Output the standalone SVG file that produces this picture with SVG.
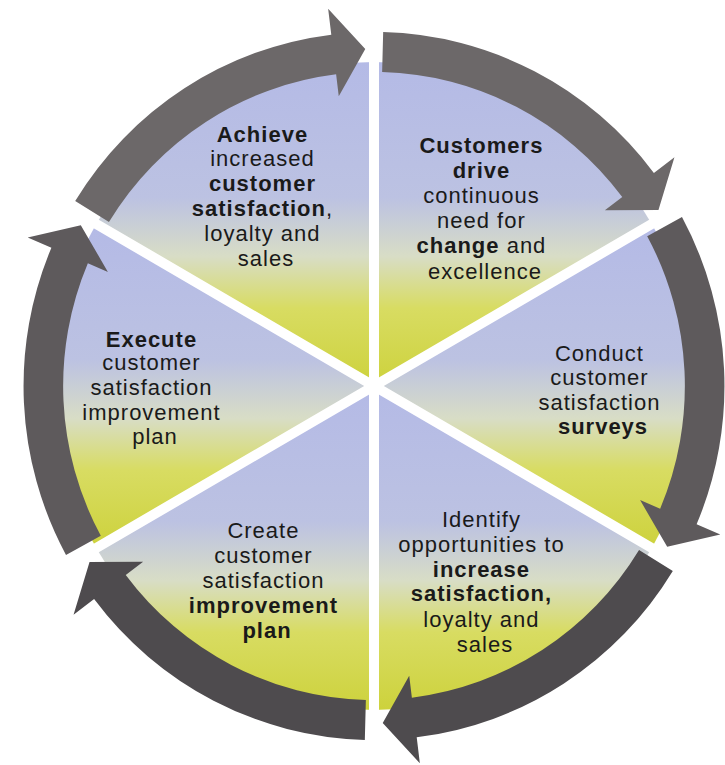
<svg xmlns="http://www.w3.org/2000/svg" width="725" height="765" viewBox="0 0 725 765">
  <defs>
    <linearGradient id="wedgeGrad" x1="0" y1="0" x2="0" y2="1">
      <stop offset="0" stop-color="#b4bae6"/>
      <stop offset="0.42" stop-color="#bcc2e2"/>
      <stop offset="0.6" stop-color="#d8ddc6"/>
      <stop offset="0.76" stop-color="#d8dc62"/>
      <stop offset="1" stop-color="#cdd23c"/>
    </linearGradient>
    <path id="arrowShape" d="M353.88,9.27 A354,354 0 0 1 213.04,282.72 L228.69,303.48 L176.08,287.34 L175.73,233.20 L188.97,250.77 A314,314 0 0 0 313.89,8.22 Z"/>
    <style>
      .wedge { fill: url(#wedgeGrad); }
      .divider { stroke: #ffffff; stroke-width: 10; stroke-linecap: round; }
      .lbl { font-family: "Liberation Sans", Arial, Helvetica, sans-serif; font-size: 22px; letter-spacing: 1px; fill: #1a1a1a; text-anchor: middle; }
      .b { font-weight: bold; }
    </style>
  </defs>
  <rect width="725" height="765" fill="#ffffff"/>

  <g id="node-achieve">
    <path class="wedge" d="M374,386 L96.2,224 A320.8,324 0 0 1 374,62 Z"/>
    <text class="lbl">
      <tspan class="b" x="266" y="142">Achieve</tspan>
      <tspan x="266" y="166">increased</tspan>
      <tspan class="b" x="266" y="191">customer</tspan>
      <tspan x="266" y="216"><tspan class="b">satisfaction</tspan>,</tspan>
      <tspan x="266" y="241">loyalty and</tspan>
      <tspan x="266" y="266">sales</tspan>
    </text>
  </g>

  <g id="node-customers">
    <path class="wedge" d="M374,386 L374,62 A320.8,324 0 0 1 651.8,224 Z"/>
    <text class="lbl">
      <tspan class="b" x="485" y="153">Customers</tspan>
      <tspan class="b" x="485" y="178">drive</tspan>
      <tspan x="485" y="203">continuous</tspan>
      <tspan x="485" y="228">need for</tspan>
      <tspan x="485" y="253"><tspan class="b">change</tspan> and</tspan>
      <tspan x="485" y="279">excellence</tspan>
    </text>
  </g>

  <g id="node-conduct">
    <path class="wedge" d="M374,386 L651.8,224 A320.8,324 0 0 1 651.8,548 Z"/>
    <text class="lbl">
      <tspan x="603" y="361">Conduct</tspan>
      <tspan x="603" y="385">customer</tspan>
      <tspan x="603" y="410">satisfaction</tspan>
      <tspan class="b" x="603" y="434">surveys</tspan>
    </text>
  </g>

  <g id="node-identify">
    <path class="wedge" d="M374,386 L651.8,548 A320.8,324 0 0 1 374,710 Z"/>
    <text class="lbl">
      <tspan x="485" y="527">Identify</tspan>
      <tspan x="485" y="552">opportunities to</tspan>
      <tspan class="b" x="485" y="577">increase</tspan>
      <tspan class="b" x="485" y="601">satisfaction,</tspan>
      <tspan x="485" y="627">loyalty and</tspan>
      <tspan x="485" y="652">sales</tspan>
    </text>
  </g>

  <g id="node-create">
    <path class="wedge" d="M374,386 L374,710 A320.8,324 0 0 1 96.2,548 Z"/>
    <text class="lbl">
      <tspan x="267" y="538">Create</tspan>
      <tspan x="267" y="563">customer</tspan>
      <tspan x="267" y="588">satisfaction</tspan>
      <tspan class="b" x="267" y="613">improvement</tspan>
      <tspan class="b" x="267" y="638">plan</tspan>
    </text>
  </g>

  <g id="node-execute">
    <path class="wedge" d="M374,386 L96.2,548 A320.8,324 0 0 1 96.2,224 Z"/>
    <text class="lbl">
      <tspan class="b" x="155" y="347">Execute</tspan>
      <tspan x="155" y="370">customer</tspan>
      <tspan x="155" y="395">satisfaction</tspan>
      <tspan x="155" y="420">improvement</tspan>
      <tspan x="155" y="444">plan</tspan>
    </text>
  </g>

  <g id="dividers">
    <line class="divider" x1="374" y1="386" x2="374" y2="16"/>
    <line class="divider" x1="374" y1="386" x2="691.2" y2="201"/>
    <line class="divider" x1="374" y1="386" x2="691.2" y2="571"/>
    <line class="divider" x1="374" y1="386" x2="374" y2="756"/>
    <line class="divider" x1="374" y1="386" x2="56.8" y2="571"/>
    <line class="divider" x1="374" y1="386" x2="56.8" y2="201"/>
  </g>

  <g id="connectors">
    <use href="#arrowShape" fill="#6c6869" transform="translate(374 386) scale(0.99 1) rotate(210)"/>
    <use href="#arrowShape" fill="#6c6869" transform="translate(374 386) scale(0.99 1) rotate(-90)"/>
    <use href="#arrowShape" fill="#5e5a5c" transform="translate(374 386) scale(0.99 1) rotate(-30)"/>
    <use href="#arrowShape" fill="#4e4b4e" transform="translate(374 386) scale(0.99 1) rotate(30)"/>
    <use href="#arrowShape" fill="#4e4b4e" transform="translate(374 386) scale(0.99 1) rotate(90)"/>
    <use href="#arrowShape" fill="#5e5a5c" transform="translate(374 386) scale(0.99 1) rotate(150)"/>
  </g>
</svg>
